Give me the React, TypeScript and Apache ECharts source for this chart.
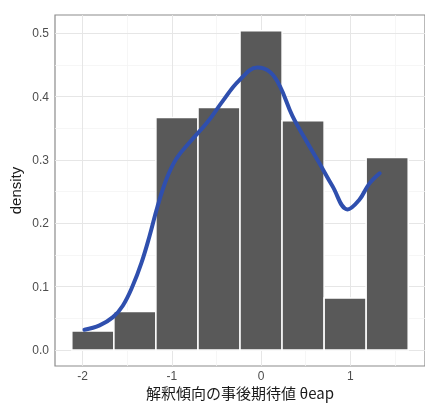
import React, { useEffect, useRef } from "react";
import * as echarts from "echarts";

const binCenters = [-1.886, -1.414, -0.943, -0.471, 0, 0.471, 0.943, 1.414];
const binDensity = [0.030, 0.061, 0.367, 0.383, 0.504, 0.362, 0.082, 0.304];
const binWidth = 0.4714;

const curveX = [-1.98, -1.81, -1.66, -1.55, -1.44, -1.34, -1.25, -1.16, -1.06, -0.95, -0.8, -0.6, -0.43, -0.25, -0.04, 0.1, 0.21, 0.35, 0.5, 0.65, 0.8, 0.97, 1.1, 1.21, 1.33];
const curveY = [0.032, 0.039, 0.052, 0.07, 0.101, 0.138, 0.18, 0.227, 0.27, 0.302, 0.328, 0.36, 0.393, 0.425, 0.446, 0.439, 0.417, 0.37, 0.332, 0.296, 0.259, 0.222, 0.237, 0.262, 0.279];

const xTicks = [-2, -1, 0, 1];
const xMinor = [-1.5, -0.5, 0.5, 1.5];
const yTicks = [0, 0.1, 0.2, 0.3, 0.4, 0.5];
const yMinor = [0.05, 0.15, 0.25, 0.35, 0.45];

const xTitle = "解釈傾向の事後期待値 θeap";
const yTitle = "density";

export default function App() {
  const ref = useRef<HTMLDivElement>(null);
  useEffect(() => {
    if (!ref.current) return;
    const chart = echarts.init(ref.current, undefined, { renderer: "svg" });
    const font = "'Liberation Sans', Arial, sans-serif";
    chart.setOption({
      animation: false,
      grid: {
        left: 55,
        right: 0,
        top: 15,
        bottom: 37,
        containLabel: false,
        outerBoundsMode: "none",
        show: true,
        borderColor: "#8c8c8c",
        borderWidth: 1.2,
        backgroundColor: "#ffffff",
      },
      xAxis: {
        type: "value",
        min: -2.31,
        max: 1.838,
        name: xTitle,
        nameLocation: "middle",
        nameGap: 19,
        nameMoveOverlap: false,
        nameTextStyle: {
          fontSize: 15,
          lineHeight: 15,
          color: "#1a1a1a",
          fontFamily: "'Noto Sans CJK JP', sans-serif",
          verticalAlign: "top",
        },
        axisLine: { show: false },
        splitLine: { show: false },
        axisTick: { show: true, customValues: xTicks, length: 3, lineStyle: { color: "#333333", width: 1 } },
        axisLabel: {
          customValues: xTicks,
          margin: 4,
          fontSize: 12,
          lineHeight: 12,
          color: "#4d4d4d",
          fontFamily: font,
          formatter: (v: number) => String(v),
        },
      },
      yAxis: {
        type: "value",
        min: -0.0252,
        max: 0.529,
        name: yTitle,
        nameLocation: "middle",
        nameGap: 32,
        nameMoveOverlap: false,
        nameRotate: 90,
        nameTextStyle: { fontSize: 15, color: "#1a1a1a", fontFamily: font },
        axisLine: { show: false },
        splitLine: { show: false },
        axisTick: { show: true, customValues: yTicks, length: 3, lineStyle: { color: "#333333", width: 1 } },
        axisLabel: {
          customValues: yTicks,
          margin: 6,
          fontSize: 12,
          color: "#4d4d4d",
          fontFamily: font,
          formatter: (v: number) => v.toFixed(1),
        },
      },
      series: [
        {
          type: "line",
          data: [],
          z: 1,
          silent: true,
          markLine: {
            silent: true,
            z: 1,
            symbol: "none",
            label: { show: false },
            animation: false,
            data: [
              ...xMinor.map((v) => ({ xAxis: v, lineStyle: { color: "#f4f4f4", width: 0.8, type: "solid" } })),
              ...yMinor.map((v) => ({ yAxis: v, lineStyle: { color: "#f4f4f4", width: 0.8, type: "solid" } })),
              ...xTicks.map((v) => ({ xAxis: v, lineStyle: { color: "#e6e6e6", width: 1, type: "solid" } })),
              ...yTicks.map((v) => ({ yAxis: v, lineStyle: { color: "#e6e6e6", width: 1, type: "solid" } })),
            ],
          },
        },
        {
          type: "custom",
          z: 2,
          data: binCenters.map((c, i) => [c, binDensity[i]]),
          renderItem: (params: any, api: any) => {
            const c = api.value(0);
            const h = api.value(1);
            const p0 = api.coord([c - binWidth / 2, h]);
            const p1 = api.coord([c + binWidth / 2, 0]);
            return {
              type: "rect",
              shape: { x: p0[0], y: p0[1], width: p1[0] - p0[0], height: p1[1] - p0[1] },
              style: { fill: "#595959", stroke: "#ffffff", lineWidth: 1.5 },
            };
          },
        },
        {
          type: "line",
          z: 3,
          smooth: 0.4,
          showSymbol: false,
          data: curveX.map((x, i) => [x, curveY[i]]),
          lineStyle: { color: "#2f4fae", width: 4, cap: "round" },
        },
      ],
    });
    return () => chart.dispose();
  }, []);
  return <div ref={ref} style={{ position: "fixed", left: 0, top: 0, width: 425, height: 403 }} />;
}
